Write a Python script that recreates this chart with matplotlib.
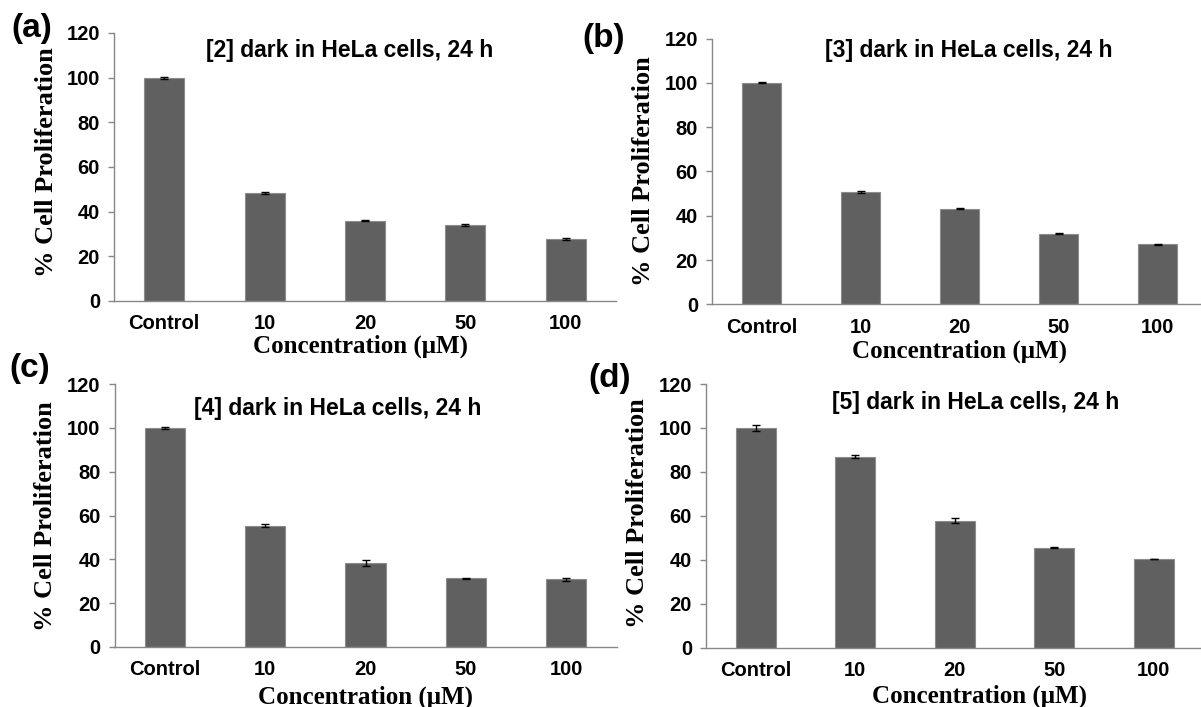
import matplotlib
matplotlib.use("Agg")
import matplotlib.pyplot as plt
import numpy as np

# proliferation data (% of control), mean and error, per complex
categories = ["Control", "10", "20", "50", "100"]

prolif_2 = [100.0, 48.4, 36.0, 34.2, 27.9]
err_2 = [0.4, 0.5, 0.4, 0.4, 0.4]

prolif_3 = [100.0, 50.6, 43.2, 32.0, 27.2]
err_3 = [0.3, 0.4, 0.2, 0.2, 0.2]

prolif_4 = [100.0, 55.4, 38.5, 31.3, 31.0]
err_4 = [0.5, 0.6, 1.4, 0.2, 0.7]

prolif_5 = [100.0, 86.9, 57.8, 45.5, 40.3]
err_5 = [1.3, 0.7, 1.3, 0.4, 0.2]

titles = ["[2] dark in HeLa cells, 24 h", "[3] dark in HeLa cells, 24 h",
          "[4] dark in HeLa cells, 24 h", "[5] dark in HeLa cells, 24 h"]
panel_tags = ["(a)", "(b)", "(c)", "(d)"]

W, H = 1201, 707
fig = plt.figure(figsize=(W / 100, H / 100), dpi=100)

sans = "Liberation Sans"
serif = "Liberation Serif"


def box(l, r, t, b):
    return [l / W, 1 - b / H, (r - l) / W, (b - t) / H]


def at(x, y):
    return x / W, 1 - y / H


# axes boxes in pixels: left, right, top, bottom
boxes = [(114, 616, 33, 301), (712, 1207, 38.5, 304.5),
         (114.5, 616.5, 384, 647), (706, 1203.5, 384, 647.5)]
title_pos = [(350, 50), (969, 50), (338, 408), (976, 403)]
tag_pos = [(32, 29), (604, 39), (30, 368), (610, 378)]
xlabel_pos = [(360, 346), (960, 351), (365, 697), (980, 696)]
ylabel_pos = [(47, 162), (643, 171), (46, 516), (638, 513)]

series = [(prolif_2, err_2), (prolif_3, err_3), (prolif_4, err_4), (prolif_5, err_5)]

for i, (vals, errs) in enumerate(series):
    ax = fig.add_axes(box(*boxes[i]))
    x = np.arange(len(categories))
    ax.bar(x, vals, width=0.4, color="#606060", edgecolor="#8c8c8c", linewidth=0.8,
           yerr=errs, capsize=2.6, error_kw=dict(ecolor="black", elinewidth=1, capthick=1))
    ax.set_xlim(-0.5, 4.5)
    ax.set_ylim(0, 120)
    ax.set_yticks(range(0, 121, 20))
    ax.set_xticks(x)
    ax.set_xticklabels(categories, fontfamily=sans, fontweight="bold", fontsize=14.5)
    for lab in ax.get_yticklabels():
        lab.set_fontfamily(sans)
        lab.set_fontweight("bold")
        lab.set_fontsize(14.5)
    ax.tick_params(axis="x", length=0, pad=9.5)
    ax.tick_params(axis="y", length=4, width=1, color="#888888", pad=6)
    for side in ["top", "right"]:
        ax.spines[side].set_visible(False)
    for side in ["left", "bottom"]:
        ax.spines[side].set_color("#888888")
        ax.spines[side].set_linewidth(1)

    fig.text(*at(*title_pos[i]), titles[i], ha="center", va="center",
             fontfamily=sans, fontweight="bold", fontsize=16.5)
    fig.text(*at(*tag_pos[i]), panel_tags[i], ha="center", va="center",
             fontfamily=sans, fontweight="bold", fontsize=24)
    fig.text(*at(*xlabel_pos[i]), "Concentration (\u03bcM)", ha="center", va="center",
             fontfamily=serif, fontweight="bold", fontsize=18)
    fig.text(*at(*ylabel_pos[i]), "% Cell Proliferation", ha="center", va="center",
             rotation=90, fontfamily=serif, fontweight="bold", fontsize=19)

fig.savefig("out.png", dpi=100)
